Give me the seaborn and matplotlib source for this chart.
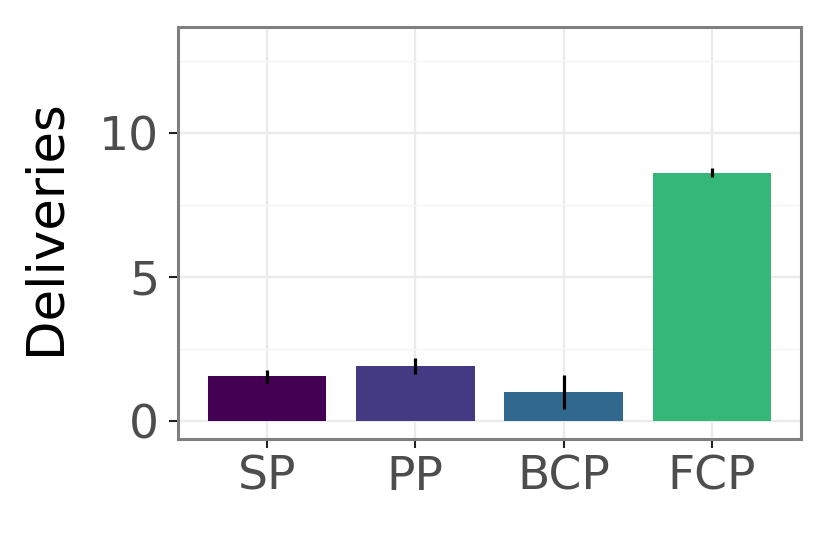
import numpy as np
import matplotlib
matplotlib.use("Agg")
import matplotlib.pyplot as plt
from matplotlib.ticker import MultipleLocator
import seaborn as sns

categories = ["SP", "PP", "BCP", "FCP"]
deliveries = [1.55, 1.90, 1.00, 8.62]
errors = [0.23, 0.28, 0.60, 0.16]
colors = ["#440154", "#443983", "#31688E", "#35B779"]

sns.set_style("white")
plt.rcParams['font.family'] = ['DejaVu Sans']

fig = plt.figure(figsize=(8.29, 5.36), dpi=100)
ax = fig.add_axes([0.2147, 0.181, 0.9662 - 0.2147, 0.9496 - 0.181])

sns.barplot(x=categories, y=deliveries, hue=categories, palette=colors,
            saturation=1, legend=False, width=0.8, linewidth=0, ax=ax, zorder=2)
ax.errorbar(np.arange(len(categories)), deliveries, yerr=errors,
            fmt='none', ecolor='black', elinewidth=2.3, capsize=0, zorder=3)

ax.set_xlim(-0.6, 3.6)
ax.set_ylim(-0.625, 13.68)
ax.yaxis.set_major_locator(MultipleLocator(5))
ax.yaxis.set_minor_locator(MultipleLocator(2.5))

ax.set_axisbelow(True)
ax.grid(which='major', color='#EBEBEB', linewidth=1.6)
ax.grid(which='minor', axis='y', color='#F5F5F5', linewidth=1.0)

for s in ax.spines.values():
    s.set_color('#7F7F7F')
    s.set_linewidth(2.2)
    s.set_visible(True)

ax.tick_params(which='major', length=6.5, width=1.5, color='#222222',
               labelsize=34, labelcolor='#4D4D4D', pad=5)
ax.tick_params(axis='y', pad=7)
ax.tick_params(which='minor', length=0)
ax.tick_params(bottom=True, left=True)

ax.set_xlabel("")
ax.set_ylabel("Deliveries", fontsize=37, color='black')
ax.yaxis.set_label_coords(-0.172, 0.515)

fig.savefig("out.png", dpi=100)
